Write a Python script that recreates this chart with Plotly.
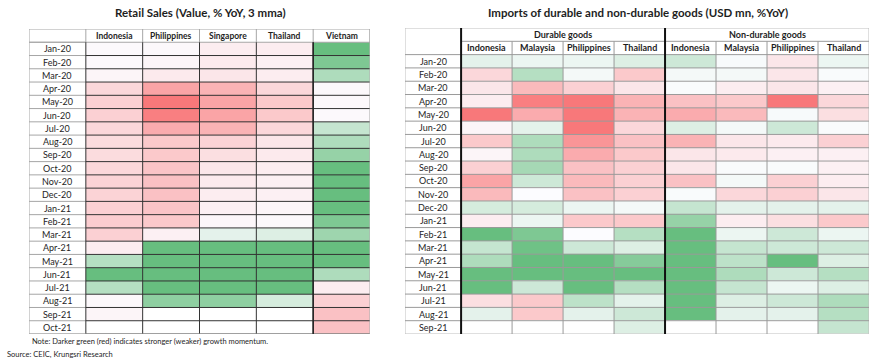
import plotly.graph_objects as go

# ---------------- DATA (colour intensity: -1 = weakest/red, +1 = strongest/green) -------------
rs_months = ["Jan-20", "Feb-20", "Mar-20", "Apr-20", "May-20", "Jun-20", "Jul-20", "Aug-20",
             "Sep-20", "Oct-20", "Nov-20", "Dec-20", "Jan-21", "Feb-21", "Mar-21", "Apr-21",
             "May-21", "Jun-21", "Jul-21", "Aug-21", "Sep-21", "Oct-21"]
rs_countries = ["Indonesia", "Philippines", "Singapore", "Thailand", "Vietnam"]
rs_indonesia = [-0.02, -0.02, -0.05, -0.25, -0.3, -0.3, -0.25, -0.22, -0.22, -0.25, -0.28, -0.28,
                -0.3, -0.32, -0.3, -0.1, 0.45, 0.95, 0.45, -0.03, -0.05, None]
rs_philippines = [-0.03, -0.05, -0.12, -0.6, -0.9, -0.85, -0.55, -0.35, -0.35, -0.38, -0.4, -0.4,
                  -0.38, -0.35, -0.08, 0.95, 0.95, 0.95, 0.95, 0.7, None, None]
rs_singapore = [-0.1, -0.12, -0.15, -0.5, -0.6, -0.6, -0.5, -0.28, -0.2, -0.15, -0.12, -0.1,
                -0.08, -0.04, 0.15, 0.95, 0.95, 0.95, 0.95, 0.7, None, None]
rs_thailand = [-0.1, -0.08, -0.1, -0.25, -0.35, -0.35, -0.25, -0.15, -0.12, -0.1, -0.08, -0.08,
               -0.05, -0.03, 0.2, 0.95, 0.95, 0.95, 0.95, 0.25, None, None]
rs_vietnam = [0.95, 0.8, 0.5, -0.03, -0.03, -0.02, 0.35, 0.5, 0.65, 0.95, 0.95, 0.95,
              0.95, 0.8, 0.6, 0.95, 0.95, 0.5, -0.1, -0.3, -0.4, -0.4]

im_months = rs_months[:21]
im_groups = ["Durable goods", "Non-durable goods"]
im_countries = ["Indonesia", "Malaysia", "Philippines", "Thailand"]
dur_indonesia = [0.15, -0.25, -0.15, -0.1, -0.9, -0.05, -0.35, -0.05, -0.3, -0.6, -0.45, 0.25,
                 -0.1, 0.95, 0.35, 0.5, 0.95, 0.95, -0.2, 0.15, None]
dur_malaysia = [0.1, 0.45, -0.45, -0.85, -0.55, 0.15, 0.5, 0.5, 0.55, 0.3, 0.0, 0.25,
                0.1, 0.8, 0.9, 0.95, 0.95, 0.3, -0.35, -0.35, None]
dur_philippines = [0.1, 0.05, -0.3, -0.9, -0.9, -0.9, -0.7, -0.55, -0.4, -0.45, -0.4, 0.1,
                   -0.35, 0.0, 0.3, 0.95, 0.95, 0.95, 0.4, 0.15, None]
dur_thailand = [0.2, -0.35, -0.15, -0.5, -0.5, -0.25, -0.4, -0.35, -0.3, -0.3, -0.3, 0.05,
                -0.35, 0.45, 0.2, 0.75, 0.95, 0.45, 0.15, 0.3, 0.2]
non_indonesia = [0.3, 0.05, 0.02, -0.4, -0.55, 0.2, -0.5, -0.15, -0.15, -0.4, 0.02, 0.35,
                 0.65, 0.95, 0.95, 0.95, 0.95, 0.95, 0.95, 0.95, None]
non_malaysia = [0.03, 0.05, -0.1, -0.35, -0.45, 0.05, -0.15, -0.12, 0.02, 0.05, -0.25, 0.15,
                -0.1, 0.1, 0.35, 0.4, 0.5, 0.35, 0.2, 0.15, None]
non_philippines = [-0.15, -0.15, -0.15, -0.9, 0.03, 0.3, -0.12, -0.08, 0.02, -0.3, -0.3, 0.15,
                   -0.2, 0.3, 0.3, 0.95, 0.3, 0.1, 0.3, 0.15, None]
non_thailand = [0.1, 0.02, -0.08, -0.25, -0.2, 0.02, -0.3, -0.08, -0.08, -0.1, -0.15, 0.15,
                -0.35, 0.1, 0.3, 0.2, 0.45, 0.2, 0.5, 0.45, 0.35]

TITLE_RS = "Retail Sales (Value, % YoY, 3 mma)"
TITLE_IM = "Imports of durable and non-durable goods (USD mn, %YoY)"
NOTE = "Note: Darker green (red) indicates stronger (weaker) growth momentum."
SOURCE = "Source: CEIC, Krungsri Research"

# ---------------- FIGURE -------------------------------------------------------------------
W, H = 870, 364
FONT = "Lato, 'Open Sans', sans-serif"
colorscale = [[0.0, "#F8696B"], [0.5, "#FCFCFF"], [1.0, "#5FBB78"]]

rs_cols = [rs_indonesia, rs_philippines, rs_singapore, rs_thailand, rs_vietnam]
rs_z = [[col[i] for col in rs_cols] for i in range(len(rs_months))]
im_cols = [dur_indonesia, dur_malaysia, dur_philippines, dur_thailand,
           non_indonesia, non_malaysia, non_philippines, non_thailand]
im_z = [[col[i] for col in im_cols] for i in range(len(im_months))]

fig = go.Figure()
fig.add_trace(go.Heatmap(z=rs_z, x=list(range(len(rs_countries))), y=list(range(len(rs_months))),
                         coloraxis="coloraxis", xaxis="x", yaxis="y", hoverinfo="skip"))
fig.add_trace(go.Heatmap(z=im_z, x=list(range(len(im_cols))), y=list(range(len(im_months))),
                         coloraxis="coloraxis", xaxis="x2", yaxis="y2", hoverinfo="skip"))


def py(px):
    return 1 - px / H


ax_common = dict(visible=False, showgrid=False, zeroline=False, fixedrange=True)
nr = len(rs_months)
ni = len(im_months)
fig.update_layout(
    width=W, height=H, margin=dict(l=0, r=0, t=0, b=0),
    paper_bgcolor="white", plot_bgcolor="white", showlegend=False,
    coloraxis=dict(colorscale=colorscale, cmin=-1, cmax=1, showscale=False),
    xaxis=dict(domain=[29 / W, 370 / W], range=[-1.5, len(rs_countries) - 0.5], **ax_common),
    yaxis=dict(domain=[py(334), py(29)], range=[nr - 0.5, -1.5], **ax_common),
    xaxis2=dict(domain=[405 / W, 869 / W], range=[-1.6, len(im_cols) - 0.5], anchor="y2", **ax_common),
    yaxis2=dict(domain=[py(334), py(28)], range=[ni - 0.5, -2.5], anchor="x2", **ax_common),
    font=dict(family=FONT, color="#1E1E1E"),
)

shapes = []
ann = []
GRAY = "#A6A6A6"
DARK = "#333333"


def line(x0, y0, x1, y1, color, width, xr="x", yr="y"):
    shapes.append(dict(type="line", x0=x0, y0=y0, x1=x1, y1=y1, xref=xr, yref=yr,
                       line=dict(color=color, width=width), layer="above"))


def label(x, y, text, xr, yr, size=9, xanchor="center"):
    ann.append(dict(x=x, y=y, xref=xr, yref=yr, text=text, showarrow=False,
                    xanchor=xanchor, yanchor="middle", font=dict(size=size, family=FONT)))


# ---- Left table lines
ncol = len(rs_countries)
for k in range(nr + 1):
    yk = k - 0.5
    line(-1.5, yk, -0.5, yk, GRAY, 1)
    if k > 0:
        line(-0.5, yk, ncol - 0.5, yk, DARK, 1)
line(-1.5, -0.5, ncol - 0.5, -0.5, GRAY, 1)
for c in range(ncol + 1):
    xc = c - 0.5
    line(xc, -1.5, xc, -0.5, GRAY, 1)
    if c < ncol:
        line(xc, -0.5, xc, nr - 0.5, DARK, 1)
shapes.append(dict(type="rect", x0=-1.5, y0=-1.5, x1=ncol - 0.5, y1=nr - 0.5, xref="x", yref="y",
                   line=dict(color=GRAY, width=1), layer="above"))
line(ncol - 1.5, -0.5, ncol - 1.5, nr - 0.5, "#222222", 1.5)

for c, name in enumerate(rs_countries):
    label(c, -1, "<b>%s</b>" % name, "x", "y", size=8.5)
for r, m in enumerate(rs_months):
    label(-1, r, m, "x", "y")

# ---- Right table lines
ncol2 = len(im_cols)
LG = "#9A9A9A"
shapes.append(dict(type="rect", x0=-1.6, y0=-2.5, x1=ncol2 - 0.5, y1=ni - 0.5, xref="x2", yref="y2",
                   line=dict(color="#BFBFBF", width=1), layer="above"))
for k in range(ni):
    yk = k - 0.5
    line(-1.6, yk, ncol2 - 0.5, yk, LG, 1, "x2", "y2")
line(-0.5, -1.5, ncol2 - 0.5, -1.5, LG, 1, "x2", "y2")
for c in range(1, ncol2):
    if c == 4:
        continue
    line(c - 0.5, -1.5, c - 0.5, ni - 0.5, LG, 1, "x2", "y2")
line(-0.5, -2.5, -0.5, ni - 0.5, "#111111", 2, "x2", "y2")
line(3.5, -2.5, 3.5, ni - 0.5, "#111111", 2, "x2", "y2")

for g, name in enumerate(im_groups):
    label(1.5 + 4 * g, -2, "<b>%s</b>" % name, "x2", "y2")
    for c, cn in enumerate(im_countries):
        label(4 * g + c, -1, "<b>%s</b>" % cn, "x2", "y2")
for r, m in enumerate(im_months):
    label(-1.05, r, m, "x2", "y2")

# ---- Titles & notes
label(200 / W, py(12.5), "<b>%s</b>" % TITLE_RS, "paper", "paper", size=11.5)
label(638 / W, py(12.5), "<b>%s</b>" % TITLE_IM, "paper", "paper", size=11.5)
label(30 / W, py(341), NOTE, "paper", "paper", size=7.5, xanchor="left")
label(5 / W, py(354), SOURCE, "paper", "paper", size=7.5, xanchor="left")

fig.update_layout(shapes=shapes, annotations=ann)
fig.write_html("out.html", config={"displayModeBar": False},
               post_script="document.body.style.margin='0';")
